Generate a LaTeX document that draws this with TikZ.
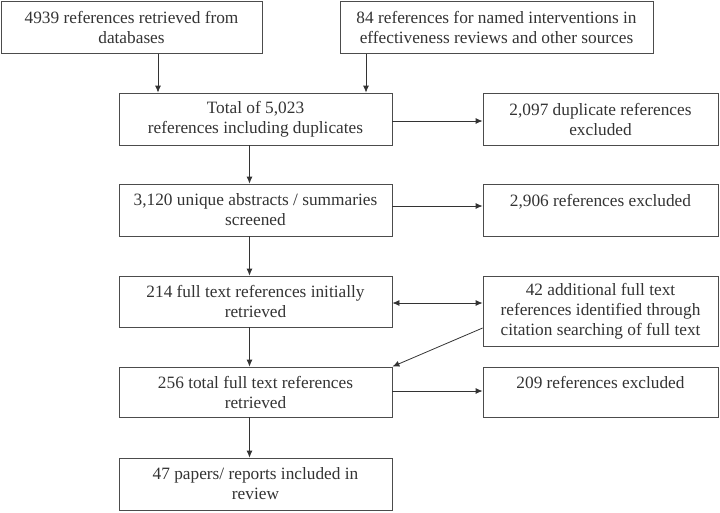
\documentclass[tikz,border=0pt]{standalone}
\usepackage{fontspec}
\setmainfont{Liberation Serif}
\usetikzlibrary{arrows.meta}

\tikzset{
  flowbox/.style={draw=black!70, line width=0.8pt, align=center, text=black!80,
    font=\fontsize{17.3}{20}\selectfont, inner sep=2pt},
  flowarrow/.style={draw=black!80, line width=0.8pt, -{Latex[length=7pt,width=6pt]}}
}

\begin{document}
\begin{tikzpicture}[x=1pt,y=-1pt]
  \useasboundingbox (0,0) rectangle (720,512);

  \node[flowbox, minimum width=261pt, minimum height=52pt] (db) at (131.5,27.5) {4939 references retrieved from\\databases};
  \node[flowbox, minimum width=313pt, minimum height=52pt] (named) at (496.5,27.5) {84 references for named interventions in\\effectiveness reviews and other sources};
  \node[flowbox, minimum width=273pt, minimum height=52pt] (total) at (255.5,119) {Total of 5,023\\references including duplicates};
  \node[flowbox, minimum width=235pt, minimum height=52pt] (dups) at (600.5,119) {2,097 duplicate references\\excluded};
  \node[flowbox, minimum width=273pt, minimum height=52pt] (unique) at (255.5,210) {3,120 unique abstracts / summaries\\screened};
  \node[flowbox, minimum width=235pt, minimum height=52pt] (excla) at (600.5,210) {2,906 references excluded\\~};
  \node[flowbox, minimum width=273pt, minimum height=51pt] (fulltext) at (255.5,301.5) {214 full text references initially\\retrieved};
  \node[flowbox, minimum width=235pt, minimum height=70pt] (citation) at (600.5,311) {42 additional full text\\references identified through\\citation searching of full text};
  \node[flowbox, minimum width=273pt, minimum height=50pt] (allfull) at (255.5,392) {256 total full text references\\retrieved};
  \node[flowbox, minimum width=235pt, minimum height=50pt] (exclb) at (600.5,392) {209 references excluded\\~};
  \node[flowbox, minimum width=273pt, minimum height=52pt] (included) at (255.5,484) {47 papers/ reports included in\\review};

  \draw[flowarrow] ([xshift=26.5pt]db.south) -- ([xshift=26.5pt]db.south |- total.north);
  \draw[flowarrow] ([xshift=-130.5pt]named.south) -- ([xshift=-130.5pt]named.south |- total.north);
  \draw[flowarrow] ([yshift=-2pt]total.east) -- ([yshift=-2pt]total.east -| dups.west);
  \draw[flowarrow] ([xshift=-6pt]total.south) -- ([xshift=-6pt]total.south |- unique.north);
  \draw[flowarrow] ([yshift=4pt]unique.east) -- ([yshift=4pt]unique.east -| excla.west);
  \draw[flowarrow] ([xshift=-6pt]unique.south) -- ([xshift=-6pt]unique.south |- fulltext.north);
  \draw[flowarrow, {Latex[length=7pt,width=6pt]}-{Latex[length=7pt,width=6pt]}] ([yshift=-1.5pt]fulltext.east) -- ([yshift=-1.5pt]fulltext.east -| citation.west);
  \draw[flowarrow] ([yshift=-17pt]citation.west) -- (allfull.north east);
  \draw[flowarrow] ([xshift=-6pt]fulltext.south) -- ([xshift=-6pt]fulltext.south |- allfull.north);
  \draw[flowarrow] ([yshift=1pt]allfull.east) -- ([yshift=1pt]allfull.east -| exclb.west);
  \draw[flowarrow] ([xshift=-6pt]allfull.south) -- ([xshift=-6pt]allfull.south |- included.north);
\end{tikzpicture}
\end{document}
